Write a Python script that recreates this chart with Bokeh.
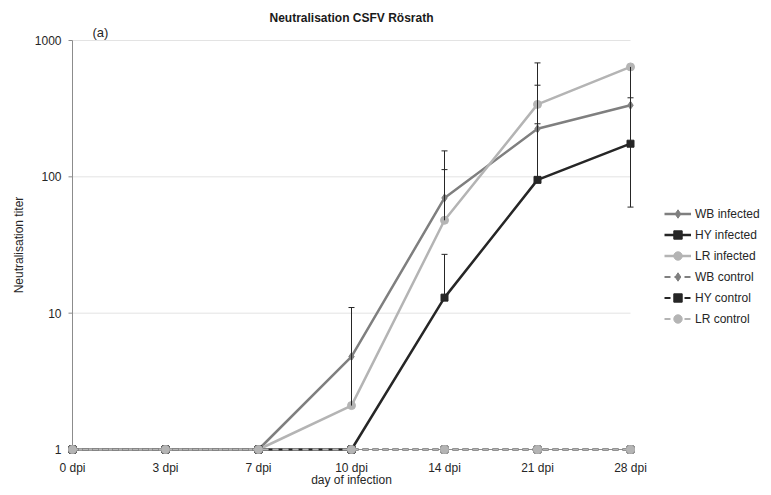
import math
from bokeh.plotting import figure
from bokeh.models import (ColumnDataSource, Range1d, Legend, LegendItem,
                          Whisker, TeeHead, Label)
from bokeh.embed import file_html
from bokeh.resources import INLINE

# ---------------- data ----------------
days = ["0 dpi", "3 dpi", "7 dpi", "10 dpi", "14 dpi", "21 dpi", "28 dpi"]
wb_infected = [1, 1, 1, 4.8, 70, 225, 335]
hy_infected = [1, 1, 1, 1, 13, 95, 175]
lr_infected = [1, 1, 1, 2.1, 48, 340, 640]
wb_control = [1, 1, 1, 1, 1, 1, 1]
hy_control = [1, 1, 1, 1, 1, 1, 1]
lr_control = [1, 1, 1, 1, 1, 1, 1]

# upper ends of error bars (None = no bar)
wb_err_upper = [None, None, None, None, 155, 470, 380]
hy_err_upper = [None, None, None, None, 27, 245, None]
lr_err_upper = [None, None, None, 11, 113, 685, None]
# lower ends of error bars
lr_err_lower = [None, None, None, None, None, None, 60]

y_ticks = [1, 10, 100, 1000]
y_tick_labels = ["1", "10", "100", "1000"]
title_text = "Neutralisation CSFV Rösrath"
panel_text = "(a)"
x_title = "day of infection"
y_title = "Neutralisation titer"

WB_C = "#7f7f7f"
HY_C = "#262626"
LR_C = "#b4b4b4"
TXT_C = "#262626"
AX_C = "#8c8c8c"
FONT = "Liberation Sans"

xs = list(range(len(days)))
n_last = len(days) - 1

# ---------------- layout (pixels inside the figure) ----------------
W, H = 763, 487
DATA_LEFT, DATA_RIGHT = 72, 630
DATA_TOP, DATA_BOTTOM = 40, 449
px_per_x = (DATA_RIGHT - DATA_LEFT) / n_last
x_start = -DATA_LEFT / px_per_x
x_end = (W - DATA_LEFT) / px_per_x
lo_dec, hi_dec = math.log10(y_ticks[0]), math.log10(y_ticks[-1])
px_per_dec = (DATA_BOTTOM - DATA_TOP) / (hi_dec - lo_dec)
y_top = 10 ** (hi_dec + DATA_TOP / px_per_dec)
y_bot = 10 ** (lo_dec - (H - DATA_BOTTOM) / px_per_dec)

p = figure(width=W, height=H, y_axis_type="log", title_location=None,
           x_range=Range1d(x_start, x_end), y_range=Range1d(y_bot, y_top),
           output_backend="svg", toolbar_location=None,
           min_border_left=0, min_border_right=0, min_border_top=0, min_border_bottom=0)
p.outline_line_color = None
p.background_fill_color = "white"
p.border_fill_color = "white"
p.xaxis.visible = False
p.yaxis.visible = False
p.xgrid.grid_line_color = None
p.ygrid.grid_line_color = None

# gridlines
grid_src = ColumnDataSource(dict(y=y_ticks[1:], x0=[0] * 3, x1=[n_last] * 3))
p.segment(x0="x0", x1="x1", y0="y", y1="y", source=grid_src,
          line_color="#e3e3e3", line_width=1, level="underlay")
# axis lines
p.segment(x0=[0], x1=[n_last], y0=[y_ticks[0]], y1=[y_ticks[0]],
          line_color=AX_C, line_width=1, level="underlay")
p.segment(x0=[0], x1=[0], y0=[y_ticks[0]], y1=[y_ticks[-1]],
          line_color=AX_C, line_width=1, level="underlay")
# y tick marks (4 px long, outwards)
tick_len = 4 / px_per_x
p.segment(x0=[-tick_len] * len(y_ticks), x1=[0] * len(y_ticks), y0=y_ticks, y1=y_ticks,
          line_color=AX_C, line_width=1, level="underlay")

# y tick labels
for v, t in zip(y_ticks, y_tick_labels):
    p.add_layout(Label(x=DATA_LEFT - 11, y=v, x_units="screen", text=t,
                       text_align="right", text_baseline="middle", text_font=FONT,
                       text_font_size="12px", text_color=TXT_C))
# y axis title
p.add_layout(Label(x=18, y=H - (DATA_TOP + DATA_BOTTOM) / 2, x_units="screen",
                   y_units="screen", text=y_title, angle=math.pi / 2,
                   text_align="center", text_baseline="middle", text_font=FONT,
                   text_font_size="12px", text_color=TXT_C))
# x tick labels
for i, d in enumerate(days):
    p.add_layout(Label(x=i, y=H - 467, y_units="screen", text=d, text_align="center",
                       text_baseline="middle", text_font=FONT, text_font_size="12px",
                       text_color=TXT_C))
# x axis title
p.add_layout(Label(x=n_last / 2, y=H - 479, y_units="screen", text=x_title,
                   text_align="center", text_baseline="middle", text_font=FONT,
                   text_font_size="12px", text_color=TXT_C))
# chart title
p.add_layout(Label(x=n_last / 2, y=H - 17, y_units="screen", text=title_text,
                   text_align="center", text_baseline="middle", text_font=FONT,
                   text_font_size="12px", text_font_style="bold", text_color="#1a1a1a"))
# panel label
p.add_layout(Label(x=DATA_LEFT + 20, y=H - 32, x_units="screen", y_units="screen",
                   text=panel_text, text_align="left", text_baseline="middle",
                   text_font=FONT, text_font_size="13px", text_color=TXT_C))

# ---------------- series ----------------
series = [
    ("WB infected", wb_infected, WB_C, "diamond", 8, None),
    ("HY infected", hy_infected, HY_C, "square", 7, None),
    ("LR infected", lr_infected, LR_C, "circle", 8, None),
    ("WB control", wb_control, WB_C, "diamond", 8, "6 4"),
    ("HY control", hy_control, HY_C, "square", 7, "6 4"),
    ("LR control", lr_control, LR_C, "circle", 8, "6 4"),
]

items = []
for name, vals, col, mk, sz, dash in series:
    src = ColumnDataSource(dict(x=xs, y=vals))
    if dash:
        ln = p.line("x", "y", source=src, line_color=col, line_width=2, line_dash=dash)
    else:
        ln = p.line("x", "y", source=src, line_color=col, line_width=2.5)
    sc = p.scatter("x", "y", source=src, marker=mk, size=sz, fill_color=col, line_color=col)
    items.append(LegendItem(label=name, renderers=[ln, sc]))

# ---------------- error bars ----------------
def add_whisker(base, ends, upper_side=True):
    bx, lo, hi = [], [], []
    for i, (b, e) in enumerate(zip(base, ends)):
        if e is None:
            continue
        bx.append(i)
        if upper_side:
            lo.append(b); hi.append(e)
        else:
            lo.append(e); hi.append(b)
    if not bx:
        return
    src = ColumnDataSource(dict(x=bx, lo=lo, hi=hi))
    head = TeeHead(size=6, line_color=HY_C, line_width=1)
    if upper_side:
        w = Whisker(source=src, base="x", lower="lo", upper="hi",
                    upper_head=head, lower_head=None,
                    line_color=HY_C, line_width=1, level="overlay")
    else:
        w = Whisker(source=src, base="x", lower="lo", upper="hi",
                    lower_head=head, upper_head=None,
                    line_color=HY_C, line_width=1, level="overlay")
    p.add_layout(w)

add_whisker(wb_infected, wb_err_upper)
add_whisker(hy_infected, hy_err_upper)
add_whisker(lr_infected, lr_err_upper)
add_whisker(lr_infected, lr_err_lower, upper_side=False)

# ---------------- legend ----------------
legend = Legend(items=items, location=(DATA_RIGHT + 34, H - 329), orientation="vertical",
                label_text_font=FONT, label_text_font_size="12px",
                label_text_color=TXT_C, glyph_width=27, glyph_height=21,
                label_height=21, spacing=0, padding=0, margin=0,
                border_line_color=None, background_fill_alpha=0,
                label_standoff=4)
p.add_layout(legend, "center")

open("out.html", "w").write(file_html(p, INLINE))
